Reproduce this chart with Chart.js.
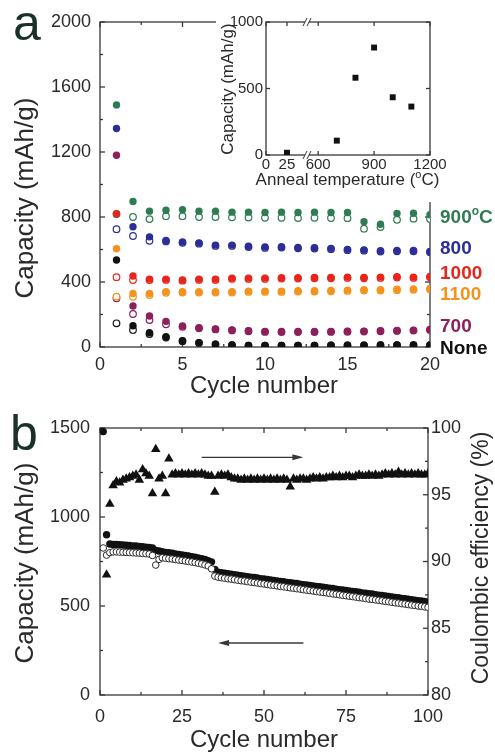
<!DOCTYPE html>
<html>
<head>
<meta charset="utf-8">
<script src="https://cdn.jsdelivr.net/npm/chart.js@4.4.1/dist/chart.umd.min.js"></script>
<style>
  body { margin: 0; background: #fff; }
  #fig { position: relative; width: 495px; height: 755px; overflow: hidden; }
  #fig canvas { position: absolute; }
</style>
</head>
<body>
<div id="fig">
  <canvas id="panelA" width="495" height="400" style="left:0;top:0;width:495px;height:400px"></canvas>
  <canvas id="inset" width="232" height="202" style="left:216px;top:0;width:232px;height:202px"></canvas>
  <canvas id="panelB" width="495" height="355" style="left:0;top:400px;width:495px;height:355px"></canvas>
</div>
<script>
//Panel a: capacity per cycle, filled = discharge, open = charge
const A_CYCLES = [1, 2, 3, 4, 5, 6, 7, 8, 9, 10, 11, 12, 13, 14, 15, 16, 17, 18, 19, 20];
const A_900_DIS = [1490, 895, 836, 842, 845, 836, 836, 830, 830, 828, 830, 828, 830, 828, 828, 771, 755, 822, 823, 814];
const A_900_CHG = [818, 800, 787, 805, 805, 800, 800, 798, 797, 795, 795, 794, 795, 794, 793, 728, 738, 783, 790, 788];
const A_800_DIS = [1345, 740, 678, 656, 646, 641, 627, 627, 620, 615, 617, 612, 611, 607, 601, 598, 592, 594, 594, 588];
const A_800_CHG = [725, 683, 654, 650, 641, 636, 622, 622, 615, 610, 612, 607, 606, 602, 596, 593, 587, 589, 589, 583];
const A_1000_DIS = [820, 437, 418, 418, 412, 418, 418, 424, 424, 424, 426, 426, 428, 428, 430, 428, 430, 432, 430, 434];
const A_1000_CHG = [430, 412, 412, 413, 408, 413, 413, 419, 419, 419, 421, 421, 423, 423, 425, 423, 425, 427, 425, 429];
const A_1100_DIS = [605, 330, 330, 340, 340, 340, 340, 340, 344, 344, 344, 346, 346, 348, 350, 352, 352, 355, 357, 360];
const A_1100_CHG = [310, 309, 320, 334, 335, 335, 335, 335, 339, 339, 339, 341, 341, 343, 345, 347, 347, 350, 352, 355];
const A_700_DIS = [1180, 252, 191, 158, 129, 119, 111, 105, 100, 96, 95, 95, 95, 96, 97, 98, 100, 102, 104, 108];
const A_700_CHG = [300, 203, 166, 140, 124, 115, 108, 102, 97, 93, 92, 92, 92, 93, 94, 95, 97, 99, 101, 105];
const A_NONE_DIS = [535, 131, 88, 63, 39, 27, 18, 12, 10, 10, 10, 10, 10, 11, 11, 11, 12, 12, 12, 13];
const A_NONE_CHG = [146, 105, 80, 58, 36, 25, 16, 11, 9, 9, 9, 9, 9, 10, 10, 10, 11, 11, 11, 12];
const A_X_TICKS = [0, 5, 10, 15, 20];
const A_Y_TICKS = [0, 400, 800, 1200, 1600, 2000];
//series names on the right and the capacity level where each one sits
const A_LABELS = [['900', { sup: 'o' }, 'C'], '800', '1000', '1100', '700', 'None'];
const A_LABEL_Y = [806, 615, 462, 332, 135, 0];

//Inset: capacity after 20 cycles vs anneal temperature
const INSET_TEMPS = [25, 700, 800, 900, 1000, 1100];
const INSET_CAP = [17, 108, 581, 808, 434, 364];
const INSET_X_TICKS = [0, 25, 600, 900, 1200];
const INSET_Y_TICKS = [0, 500, 1000];

//Panel b: 100 cycles at 900 C
const B_DISCHARGE = [1480, 900, 848, 846, 846, 844, 843, 841, 840, 838,
  837, 835, 833, 831, 829, 826, 812, 809, 805, 801,
  799, 796, 793, 790, 787, 784, 781, 777, 774, 770,
  766, 761, 755, 748, 706, 690, 687, 684, 681, 678,
  676, 673, 670, 668, 665, 662, 660, 657, 654, 652,
  649, 647, 644, 641, 638, 636, 633, 631, 628, 626,
  623, 620, 618, 616, 613, 610, 608, 605, 603, 600,
  598, 595, 592, 590, 587, 585, 582, 580, 577, 574,
  572, 569, 567, 564, 561, 559, 556, 554, 551, 548,
  546, 543, 541, 538, 535, 533, 530, 528, 525, 522];
const B_CHARGE = [826, 786, 800, 804, 804, 803, 802, 801, 800, 799,
  798, 797, 795, 794, 792, 784, 730, 762, 771, 768,
  766, 764, 761, 758, 756, 753, 750, 747, 744, 740,
  736, 731, 725, 709, 668, 662, 659, 656, 653, 651,
  648, 645, 642, 640, 637, 634, 632, 629, 626, 624,
  621, 618, 616, 613, 610, 608, 605, 602, 600, 597,
  595, 592, 589, 587, 584, 581, 579, 576, 574, 571,
  568, 566, 563, 560, 558, 555, 553, 550, 547, 545,
  542, 539, 537, 534, 532, 529, 526, 524, 521, 518,
  516, 513, 511, 508, 505, 503, 500, 498, 495, 493];
const B_CE = [null, 89.0, 94.3, 95.7, 96.0, 95.9, 96.1, 96.2, 96.3, 96.4,
  96.5, 96.1, 96.9, 96.6, 96.4, 95.1, 98.4, 96.2, 96.4, 95.1,
  97.7, 96.5, 96.6, 96.5, 96.6, 96.5, 96.6, 96.5, 96.6, 96.5,
  96.6, 96.5, 96.4, 96.4, 95.2, 96.4, 96.5, 96.4, 96.5, 96.3,
  96.2, 96.2, 96.1, 96.2, 96.1, 96.2, 96.1, 96.2, 96.1, 96.2,
  96.1, 96.2, 96.1, 96.2, 96.1, 96.2, 96.1, 95.6, 96.2, 96.1,
  96.2, 96.2, 96.1, 96.2, 96.3, 96.2, 96.3, 96.2, 96.3, 96.3,
  96.4, 96.3, 96.4, 96.3, 96.4, 96.4, 96.3, 96.4, 96.5, 96.4,
  96.4, 96.5, 96.4, 96.5, 96.4, 96.5, 96.6, 96.5, 96.6, 96.5,
  96.7, 96.5, 96.6, 96.5, 96.6, 96.5, 96.6, 96.5, 96.5, 96.6];
const B_X_TICKS = [0, 25, 50, 75, 100];
const B_Y_TICKS = [0, 500, 1000, 1500];
const B_Y2_TICKS = [80, 85, 90, 95, 100];
//arrows telling which axis each set belongs to
const B_ARROW_FROM = [31, 62];
const B_ARROW_TO = [62, 36];
const B_ARROW_LEVEL = [97.8, 292];
const B_ARROW_AXIS = ['y2', 'y'];

const B_CYCLES = [];
for (let i = 1; i <= B_DISCHARGE.length; i++) {
  B_CYCLES.push(i);
}

const FONT = "'Liberation Sans', Arial, Helvetica, sans-serif";
const AXIS_COLOR = '#383838';
const TEXT_COLOR = '#2a2a2a';
const LETTER_COLOR = '#1b3128';

Chart.defaults.font.family = FONT;
Chart.defaults.color = TEXT_COLOR;
Chart.defaults.animation = false;

function points(xs, ys) {
  return xs.map((x, i) => ({ x: x, y: ys[i] }));
}

function midpoints(vals) {
  return vals.slice(1).map((v, i) => (v + vals[i]) / 2);
}

function fixedTicks(list) {
  return scale => { scale.ticks = list.map(v => ({ value: v })); };
}

//plain numbers, no thousands separator
function plain(v) {
  return String(v);
}

//box round the plot area with tick marks pointing inwards
function framePlugin(sides, majorLen, minorLen) {
  return {
    id: 'frame',
    beforeDatasetsDraw(chart) {
      const ctx = chart.ctx;
      const a = chart.chartArea;
      ctx.save();
      ctx.strokeStyle = AXIS_COLOR;
      ctx.lineWidth = 1.3;
      ctx.strokeRect(a.left, a.top, a.right - a.left, a.bottom - a.top);
      sides.forEach(side => {
        const scale = chart.scales[side.scale];
        const mark = (v, len) => {
          const p = scale.getPixelForValue(v);
          ctx.beginPath();
          if (side.edge === 'bottom') { ctx.moveTo(p, a.bottom); ctx.lineTo(p, a.bottom - len); }
          else if (side.edge === 'top') { ctx.moveTo(p, a.top); ctx.lineTo(p, a.top + len); }
          else if (side.edge === 'left') { ctx.moveTo(a.left, p); ctx.lineTo(a.left + len, p); }
          else { ctx.moveTo(a.right, p); ctx.lineTo(a.right - len, p); }
          ctx.stroke();
        };
        side.major.forEach(v => mark(v, majorLen));
        (side.minor || []).forEach(v => mark(v, minorLen));
      });
      ctx.restore();
    }
  };
}

//text with an optional small raised part, e.g. the o of oC
function drawRich(ctx, it, x, y) {
  const parts = Array.isArray(it.text) ? it.text : [it.text];
  const weight = it.bold ? 'bold ' : '';
  const fontFor = p => weight + (typeof p === 'string' ? it.size : Math.round(it.size * 0.62)) + 'px ' + FONT;
  const str = p => (typeof p === 'string' ? p : p.sup);
  ctx.save();
  ctx.translate(x, y);
  if (it.rotate) ctx.rotate(it.rotate);
  ctx.fillStyle = it.color || TEXT_COLOR;
  ctx.textBaseline = 'alphabetic';
  ctx.textAlign = 'left';
  let total = 0;
  parts.forEach(p => { ctx.font = fontFor(p); total += ctx.measureText(str(p)).width; });
  let cx = it.align === 'left' ? 0 : -total / 2;
  parts.forEach(p => {
    ctx.font = fontFor(p);
    ctx.fillText(str(p), cx, typeof p === 'string' ? 0 : -it.size * 0.4);
    cx += ctx.measureText(str(p)).width;
  });
  ctx.restore();
}

function textPlugin(items) {
  return {
    id: 'texts',
    afterDraw(chart) {
      items.forEach(it => {
        const pos = typeof it.at === 'function' ? it.at(chart) : it.at;
        drawRich(chart.ctx, it, pos[0], pos[1]);
      });
    }
  };
}

function tickFont(size) {
  return { size: size };
}

//---------- panel a ----------
const A_SERIES = [
  { dis: A_900_DIS, chg: A_900_CHG, color: '#2f7c52' },
  { dis: A_800_DIS, chg: A_800_CHG, color: '#2b2d98' },
  { dis: A_1000_DIS, chg: A_1000_CHG, color: '#e8251d' },
  { dis: A_1100_DIS, chg: A_1100_CHG, color: '#f5921c' },
  { dis: A_700_DIS, chg: A_700_CHG, color: '#8c1f5c' },
  { dis: A_NONE_DIS, chg: A_NONE_CHG, color: '#111111' }
];

const aDatasets = [];
A_SERIES.forEach(s => {
  aDatasets.push({
    data: points(A_CYCLES, s.chg), pointStyle: 'circle', pointRadius: 3.3,
    pointBorderWidth: 1.2, pointBorderColor: s.color, pointBackgroundColor: '#ffffff', order: 2
  });
  aDatasets.push({
    data: points(A_CYCLES, s.dis), pointStyle: 'circle', pointRadius: 3.7,
    pointBorderWidth: 0, pointBackgroundColor: s.color, order: 1
  });
});

const aTexts = [
  { text: 'a', at: [13, 40], size: 50, align: 'left', color: LETTER_COLOR },
  { text: 'Capacity (mAh/g)', at: [33, 198], size: 26, rotate: -Math.PI / 2 },
  { text: 'Cycle number', at: [264, 393], size: 24 }
];
A_LABELS.forEach((label, i) => {
  aTexts.push({
    text: label, size: 19, bold: true, align: 'left', color: A_SERIES[i].color,
    at: chart => [chart.chartArea.right + 10, chart.scales.y.getPixelForValue(A_LABEL_Y[i]) + 19 * 0.36]
  });
});

new Chart(document.getElementById('panelA'), {
  type: 'scatter',
  data: { datasets: aDatasets },
  options: {
    responsive: false,
    layout: { padding: { top: 22, right: 65, left: 0, bottom: 0 } },
    plugins: { legend: { display: false }, tooltip: { enabled: false } },
    scales: {
      x: {
        type: 'linear', min: 0, max: 20,
        grid: { display: false, drawTicks: false }, border: { display: false },
        afterBuildTicks: fixedTicks(A_X_TICKS),
        afterFit: s => { s.height = 53; },
        ticks: { font: tickFont(18), padding: 7, autoSkip: false, maxRotation: 0, callback: plain }
      },
      y: {
        min: 0, max: 2000,
        grid: { display: false, drawTicks: false }, border: { display: false },
        afterBuildTicks: fixedTicks(A_Y_TICKS),
        afterFit: s => { s.width = 100; },
        ticks: { font: tickFont(18), padding: 9, autoSkip: false, callback: plain }
      }
    }
  },
  plugins: [
    framePlugin([
      { edge: 'bottom', scale: 'x', major: A_X_TICKS, minor: midpoints(A_X_TICKS) },
      { edge: 'top', scale: 'x', major: A_X_TICKS, minor: midpoints(A_X_TICKS) },
      { edge: 'left', scale: 'y', major: A_Y_TICKS, minor: midpoints(A_Y_TICKS) },
      { edge: 'right', scale: 'y', major: A_Y_TICKS, minor: midpoints(A_Y_TICKS) }
    ], 5, 3),
    textPlugin(aTexts)
  ]
});

//---------- inset (broken temperature axis) ----------
//the 0-25 C part is stretched so it fits left of the break
const INSET_AXIS_MIN = 320;
const INSET_LOW_STRETCH = 4.5;
const INSET_BREAK_AT = 540;
function tempToAxis(t) {
  return t < 300 ? INSET_AXIS_MIN + t * INSET_LOW_STRETCH : t;
}
const insetXMajor = INSET_X_TICKS.map(tempToAxis);

const insetBack = {
  id: 'insetBack',
  beforeDraw(chart) {
    const ctx = chart.ctx;
    ctx.save();
    ctx.fillStyle = '#ffffff';
    ctx.fillRect(0, 0, chart.width, chart.height);
    ctx.restore();
  },
  afterDraw(chart) {
    //break marks on the temperature axis
    const ctx = chart.ctx;
    const a = chart.chartArea;
    const px = chart.scales.x.getPixelForValue(INSET_BREAK_AT);
    ctx.save();
    [a.top, a.bottom].forEach(py => {
      ctx.fillStyle = '#ffffff';
      ctx.fillRect(px - 2, py - 2, 4, 4);
      ctx.strokeStyle = AXIS_COLOR;
      ctx.lineWidth = 1;
      [-2, 2].forEach(off => {
        ctx.beginPath();
        ctx.moveTo(px + off - 2, py + 4);
        ctx.lineTo(px + off + 2, py - 4);
        ctx.stroke();
      });
    });
    ctx.restore();
  }
};

new Chart(document.getElementById('inset'), {
  type: 'scatter',
  data: {
    datasets: [{
      data: points(INSET_TEMPS.map(tempToAxis), INSET_CAP),
      pointStyle: 'rect', pointRadius: 4.2, pointBorderWidth: 0, pointBackgroundColor: '#111111'
    }]
  },
  options: {
    responsive: false,
    layout: { padding: { top: 22, right: 18, left: 0, bottom: 0 } },
    plugins: { legend: { display: false }, tooltip: { enabled: false } },
    scales: {
      x: {
        type: 'linear', min: INSET_AXIS_MIN, max: 1200,
        grid: { display: false, drawTicks: false }, border: { display: false },
        afterBuildTicks: fixedTicks(insetXMajor),
        afterFit: s => { s.height = 47; },
        ticks: { font: tickFont(15), padding: 1, autoSkip: false, maxRotation: 0,
          callback: (v, i) => String(INSET_X_TICKS[i]) }
      },
      y: {
        min: 0, max: 1000,
        grid: { display: false, drawTicks: false }, border: { display: false },
        afterBuildTicks: fixedTicks(INSET_Y_TICKS),
        afterFit: s => { s.width = 50; },
        ticks: { font: tickFont(15), padding: 3, autoSkip: false, callback: plain }
      }
    }
  },
  plugins: [
    insetBack,
    framePlugin([
      { edge: 'bottom', scale: 'x', major: insetXMajor },
      { edge: 'top', scale: 'x', major: insetXMajor },
      { edge: 'left', scale: 'y', major: INSET_Y_TICKS },
      { edge: 'right', scale: 'y', major: INSET_Y_TICKS }
    ], 4, 3),
    textPlugin([
      { text: 'Capacity (mAh/g)', at: [17, 89], size: 17, rotate: -Math.PI / 2 },
      { text: ['Anneal temperature (', { sup: 'o' }, 'C)'], at: [131.5, 185], size: 17 }
    ])
  ]
});

//---------- panel b ----------
const arrowPlugin = {
  id: 'arrows',
  afterDatasetsDraw(chart) {
    const ctx = chart.ctx;
    const xs = chart.scales.x;
    ctx.save();
    ctx.strokeStyle = AXIS_COLOR;
    ctx.fillStyle = AXIS_COLOR;
    ctx.lineWidth = 1.4;
    B_ARROW_FROM.forEach((from, i) => {
      const x1 = xs.getPixelForValue(from);
      const x2 = xs.getPixelForValue(B_ARROW_TO[i]);
      const y = chart.scales[B_ARROW_AXIS[i]].getPixelForValue(B_ARROW_LEVEL[i]);
      const dir = x2 > x1 ? 1 : -1;
      ctx.beginPath();
      ctx.moveTo(x1, y);
      ctx.lineTo(x2 - dir * 10, y);
      ctx.stroke();
      ctx.beginPath();
      ctx.moveTo(x2, y);
      ctx.lineTo(x2 - dir * 11, y - 3);
      ctx.lineTo(x2 - dir * 11, y + 3);
      ctx.closePath();
      ctx.fill();
    });
    ctx.restore();
  }
};

new Chart(document.getElementById('panelB'), {
  type: 'scatter',
  data: {
    datasets: [
      {
        data: points(B_CYCLES, B_DISCHARGE), yAxisID: 'y', pointStyle: 'circle', pointRadius: 3.7,
        pointBorderWidth: 0, pointBackgroundColor: '#111111', order: 2
      },
      {
        data: points(B_CYCLES, B_CHARGE), yAxisID: 'y', pointStyle: 'circle', pointRadius: 3.3,
        pointBorderWidth: 1, pointBorderColor: '#2a2a2a', pointBackgroundColor: '#ffffff', order: 1
      },
      {
        data: points(B_CYCLES, B_CE), yAxisID: 'y2', pointStyle: 'triangle', pointRadius: 5.5,
        pointBorderWidth: 0, pointBackgroundColor: '#111111', order: 1
      }
    ]
  },
  options: {
    responsive: false,
    layout: { padding: { top: 28, right: 0, left: 0, bottom: 0 } },
    plugins: { legend: { display: false }, tooltip: { enabled: false } },
    scales: {
      x: {
        type: 'linear', min: 0, max: 100,
        grid: { display: false, drawTicks: false }, border: { display: false },
        afterBuildTicks: fixedTicks(B_X_TICKS),
        afterFit: s => { s.height = 60; },
        ticks: { font: tickFont(18), padding: 11, autoSkip: false, maxRotation: 0, callback: plain }
      },
      y: {
        position: 'left', min: 0, max: 1500,
        grid: { display: false, drawTicks: false }, border: { display: false },
        afterBuildTicks: fixedTicks(B_Y_TICKS),
        afterFit: s => { s.width = 100; },
        ticks: { font: tickFont(18), padding: 10, autoSkip: false, callback: plain }
      },
      y2: {
        position: 'right', min: 80, max: 100,
        grid: { display: false, drawTicks: false }, border: { display: false },
        afterBuildTicks: fixedTicks(B_Y2_TICKS),
        afterFit: s => { s.width = 67; },
        ticks: { font: tickFont(18), padding: 3, autoSkip: false, callback: plain }
      }
    }
  },
  plugins: [
    framePlugin([
      { edge: 'bottom', scale: 'x', major: B_X_TICKS, minor: midpoints(B_X_TICKS) },
      { edge: 'top', scale: 'x', major: B_X_TICKS, minor: midpoints(B_X_TICKS) },
      { edge: 'left', scale: 'y', major: B_Y_TICKS, minor: midpoints(B_Y_TICKS) },
      { edge: 'right', scale: 'y2', major: B_Y2_TICKS, minor: midpoints(B_Y2_TICKS) }
    ], 5, 3),
    arrowPlugin,
    textPlugin([
      { text: 'b', at: [10, 50], size: 50, align: 'left', color: LETTER_COLOR },
      { text: 'Capacity (mAh/g)', at: [33, 163], size: 26, rotate: -Math.PI / 2 },
      { text: 'Coulombic efficiency (%)', at: [488, 158], size: 23, rotate: -Math.PI / 2 },
      { text: 'Cycle number', at: [264, 347], size: 24 }
    ])
  ]
});
</script>
</body>
</html>
